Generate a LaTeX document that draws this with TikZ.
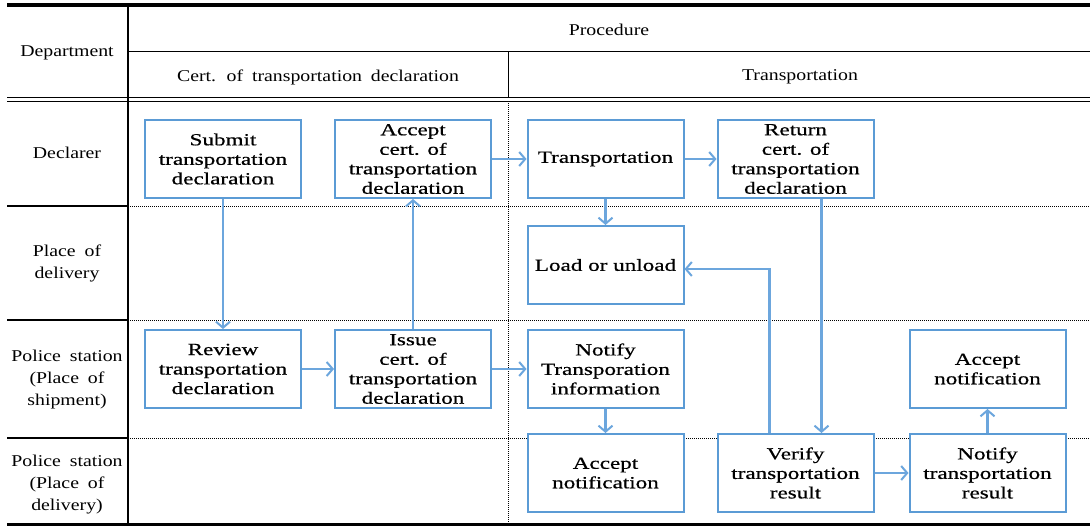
\documentclass[tikz,border=0pt]{standalone}
\usepackage{fontspec}
\usetikzlibrary{arrows.meta}
\newfontfamily\hfont[FakeStretch=1.2, WordSpace=1.8]{Liberation Serif}
\newfontfamily\bfont[FakeStretch=1.36, FakeBold=0.6]{Liberation Serif}
\definecolor{boxblue}{RGB}{91,155,213}
\definecolor{arrblue}{RGB}{108,166,221}
\tikzset{
  stepbox/.style={draw=boxblue, line width=2pt, fill=white, minimum width=156pt, minimum height=78pt,
    align=center, inner sep=2pt, font=\bfont\fontsize{17}{19.5}\selectfont},
  arr/.style={draw=arrblue, line width=2.4pt, -{Straight Barb[length=6pt,width=14pt,line width=2pt]}},
  hdr/.style={align=center, font=\hfont\fontsize{16.5}{22}\selectfont, inner sep=0pt},
  grid/.style={line width=1.2pt},
  dotline/.style={line width=0.7pt, dash pattern=on 0.8pt off 1.2pt}
}
\begin{document}
\begin{tikzpicture}[x=1pt,y=-1pt]
\fill[white] (0,0) rectangle (1090,527);
\useasboundingbox (0,0) rectangle (1090,527);
% table lines
\draw[line width=3.5pt] (7,5) -- (1090,5);
\draw[line width=3pt] (7,524) -- (1090,524);
\draw[line width=1.6pt] (128,5) -- (128,524);
\draw[line width=1pt] (128,52) -- (1090,52);
\draw[line width=1pt] (508,52) -- (508,97.5);
\draw[dotline] (508,101) -- (508,524);
\draw[line width=1.3pt] (7,97.5) -- (1090,97.5);
\draw[line width=0.9pt] (7,101) -- (1090,101);
\foreach \yy in {206,320,438}{
  \draw[grid] (7,\yy) -- (128,\yy);
  \draw[dotline] (128,\yy) -- (1090,\yy);
}
% header texts
\node[hdr] (hdept) at (67,53) {Department};
\node[hdr] (hproc) at (609,30) {Procedure};
\node[hdr] (hcert) at (318,77) {Cert. of transportation declaration};
\node[hdr] (htrans) at (800,77) {Transportation};
\node[hdr] (rdecl) at (67,153) {Declarer};
\node[hdr] (rplace) at (67,263) {Place of\\delivery};
\node[hdr] (rpship) at (67,380) {Police station\\(Place of\\shipment)};
\node[hdr] (rpdel) at (67,485) {Police station\\(Place of\\delivery)};
% boxes
\node[stepbox] (submit) at (223,159) {Submit\\transportation\\declaration};
\node[stepbox] (accept) at (413,159) {Accept\\cert. of\\transportation\\declaration};
\node[stepbox] (transp) at (605.5,159) {Transportation};
\node[stepbox] (return) at (795.5,159) {Return\\cert. of\\transportation\\declaration};
\node[stepbox] (load) at (605.5,265) {Load or unload};
\node[stepbox] (review) at (223,369) {Review\\transportation\\declaration};
\node[stepbox] (issue) at (413,369) {Issue\\cert. of\\transportation\\declaration};
\node[stepbox] (notifyinfo) at (605.5,369) {Notify\\Transporation\\information};
\node[stepbox] (acceptn1) at (987.5,369) {Accept\\notification};
\node[stepbox] (acceptn2) at (605.5,473) {Accept\\notification};
\node[stepbox] (verify) at (795.5,473) {Verify\\transportation\\result};
\node[stepbox] (notifyres) at (987.5,473) {Notify\\transportation\\result};
% arrows
\draw[arr] (submit) -- (review);
\draw[arr] (issue) -- (accept);
\draw[arr] (accept) -- (transp);
\draw[arr] (transp) -- (return);
\draw[arr] (transp) -- (load);
\draw[arr] ([xshift=26pt]return.south) -- ([xshift=26pt]verify.north);
\draw[arr] ([xshift=-26pt]verify.north) |- ([yshift=-4pt]load.east);
\draw[arr] (review) -- (issue);
\draw[arr] (issue) -- (notifyinfo);
\draw[arr] (notifyinfo) -- (acceptn2);
\draw[arr] (verify) -- (notifyres);
\draw[arr] (notifyres) -- (acceptn1);
\end{tikzpicture}
\end{document}
